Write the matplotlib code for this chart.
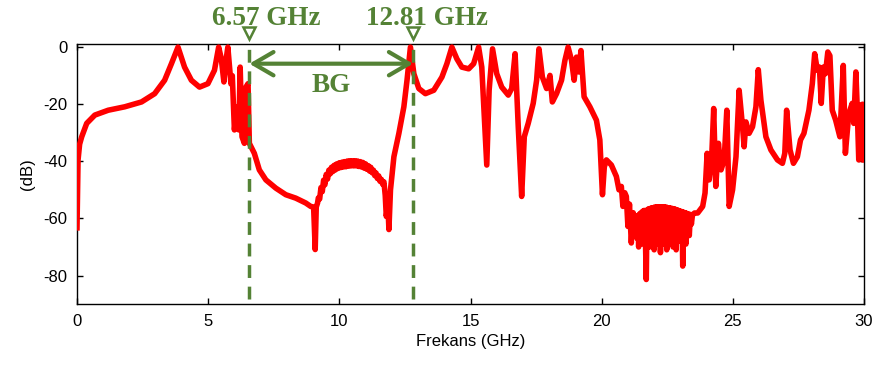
import matplotlib
matplotlib.use('Agg')
import matplotlib.pyplot as plt

plt.rcParams['axes.unicode_minus'] = False

# response, split in pieces (frequency in GHz, level in dB)
f_low = [
    0.00, 0.02, 0.04, 0.10, 0.18, 0.37, 0.68, 1.19, 1.82, 2.46, 2.96, 3.34, 3.60, 3.85,
    4.10, 4.36, 4.67, 4.99, 5.24, 5.40, 5.50, 5.60, 5.66, 5.75, 5.87, 5.92, 6.00, 6.09,
    6.17, 6.22, 6.29, 6.38, 6.44, 6.52, 6.57, 6.76, 6.95, 7.20, 7.58, 7.96, 8.34, 8.72,
    8.91, 9.02, 9.08, 9.12, 9.17,
]
db_low = [
    -63.3, -50.0, -39.5, -34.0, -31.4, -26.7, -23.8, -22.1, -20.9, -19.2, -16.3, -11.6, -5.8, 0.0,
    -7.0, -11.6, -14.0, -12.8, -8.1, 0.0, -4.0, -12.2, -6.0, 0.0, -12.9, -10.0, -29.0, -20.9,
    -29.0, -7.0, -31.4, -33.7, -14.0, -12.8, -33.7, -37.2, -43.0, -46.5, -49.4, -51.7, -52.9, -54.6,
    -55.8, -56.0, -70.9, -56.0, -54.6,
]

# ripple on the dome inside the band gap
f_dome = [
    9.20, 9.25, 9.30, 9.35, 9.40, 9.45, 9.50, 9.55, 9.60, 9.65, 9.70, 9.75, 9.80, 9.85,
    9.90, 9.95, 10.00, 10.05, 10.10, 10.15, 10.20, 10.25, 10.30, 10.35, 10.40, 10.45,
    10.50, 10.55, 10.60, 10.65, 10.70, 10.75, 10.80, 10.85, 10.90, 10.95, 11.00, 11.05,
    11.10, 11.15, 11.20, 11.25, 11.30, 11.35, 11.40, 11.45, 11.50, 11.55, 11.60, 11.65, 11.70,
]
db_dome = [
    -52.8, -53.2, -49.2, -50.6, -46.6, -48.2, -44.6, -46.2, -43.1, -44.4, -42.1, -43.6, -41.4, -43.0,
    -40.9, -42.5, -40.5, -42.2, -40.3, -42.0, -40.1, -41.9, -39.9, -41.7, -39.8, -41.6,
    -39.8, -41.6, -39.8, -41.6, -39.9, -41.8, -40.1, -42.0, -40.4, -42.4, -40.9, -42.8,
    -41.5, -43.4, -42.1, -44.0, -43.1, -45.0, -44.1, -46.0, -45.1, -47.0, -46.3, -48.0, -47.2,
]

f_mid = [
    11.75, 11.79, 11.85, 11.89, 11.95, 12.08, 12.27, 12.46, 12.58, 12.71, 12.84, 13.03,
    13.28, 13.60, 13.91, 14.10, 14.29, 14.48, 14.67, 14.93, 15.12, 15.31, 15.43, 15.62,
    15.71, 15.84, 16.00, 16.19, 16.44, 16.57, 16.70, 16.82, 16.95, 17.05, 17.20, 17.39,
    17.52, 17.61, 17.74, 17.90, 18.03, 18.12, 18.28, 18.47, 18.60, 18.72, 18.85, 18.95,
    19.04, 19.13, 19.21, 19.33, 19.55, 19.80, 19.93, 19.99, 20.03, 20.10, 20.18, 20.37,
    20.56, 20.66, 20.75, 20.81, 20.88, 20.94, 21.00, 21.06, 21.13, 21.20, 21.26,
]
db_mid = [
    -52.0, -59.3, -55.0, -63.9, -50.0, -38.4, -30.2, -20.9, -11.6, 0.0, -9.3, -14.5,
    -16.3, -15.1, -10.5, -5.8, 0.0, -4.1, -7.0, -7.6, -5.8, 0.0, -7.0, -41.3,
    -15.1, -0.6, -9.3, -14.0, -16.8, -14.5, -2.3, -27.9, -52.3, -31.4, -26.7, -19.7,
    -11.6, -0.6, -10.5, -14.5, -9.9, -19.2, -16.3, -11.6, -4.6, 0.0, -4.6, -11.6,
    -3.5, -8.7, -1.2, -17.4, -20.9, -25.6, -32.5, -44.2, -51.7, -42.0, -39.5, -41.3,
    -45.3, -50.0, -48.8, -55.8, -51.0, -52.3, -62.8, -55.0, -68.6, -58.0, -60.4,
]

# dense ripple in the 21-23.5 GHz stop band
f_band = [
    21.29, 21.32, 21.35, 21.38, 21.41, 21.44, 21.47, 21.50, 21.53, 21.56, 21.59, 21.62,
    21.66, 21.70, 21.73, 21.76, 21.79, 21.82, 21.85, 21.88, 21.91, 21.94, 21.97, 22.00,
    22.03, 22.06, 22.09, 22.12, 22.15, 22.18, 22.21, 22.24, 22.27, 22.30, 22.33, 22.36,
    22.39, 22.42, 22.45, 22.48, 22.51, 22.54, 22.57, 22.60, 22.63, 22.66, 22.69, 22.72,
    22.75, 22.78, 22.81, 22.84, 22.87, 22.90, 22.93, 22.96, 22.99, 23.02, 23.06, 23.09,
    23.12, 23.15, 23.18, 23.21, 23.24, 23.27, 23.30, 23.34, 23.38, 23.42, 23.46, 23.54,
]
db_band = [
    -64.0, -59.5, -67.0, -59.0, -70.0, -58.5, -63.0, -58.0, -66.0, -57.5, -69.0, -57.2,
    -64.0, -81.4, -57.0, -66.0, -56.6, -70.0, -56.5, -63.0, -56.3, -67.0, -56.2, -71.0,
    -56.0, -65.0, -56.0, -69.0, -56.0, -63.0, -56.0, -72.0, -56.0, -66.0, -56.0, -69.0,
    -56.0, -64.0, -56.0, -71.0, -56.2, -66.0, -56.3, -69.0, -56.4, -64.0, -56.5, -70.0,
    -56.6, -65.0, -56.8, -71.0, -57.0, -64.0, -57.2, -68.0, -57.4, -65.0, -57.6, -76.7,
    -57.8, -66.0, -58.0, -69.0, -58.2, -63.0, -58.4, -66.0, -58.6, -62.0, -58.8, -58.1,
]

f_high = [
    23.66, 23.85, 23.94, 24.02, 24.10, 24.19, 24.27, 24.35, 24.45, 24.55, 24.67, 24.77,
    24.86, 24.99, 25.12, 25.24, 25.37, 25.43, 25.50, 25.62, 25.75, 25.88, 25.97, 26.07,
    26.26, 26.45, 26.70, 26.89, 26.98, 27.05, 27.18, 27.31, 27.46, 27.58, 27.71, 27.90,
    28.03, 28.12, 28.22, 28.30, 28.37, 28.45, 28.53, 28.62, 28.70, 28.79, 28.92, 29.08,
    29.21, 29.29, 29.42, 29.55, 29.61, 29.69, 29.74, 29.80, 29.86, 29.95, 30.00,
]
db_high = [
    -58.1, -55.8, -51.1, -37.2, -46.5, -39.5, -21.5, -48.8, -33.7, -43.0, -39.5, -22.1,
    -55.8, -50.0, -38.4, -15.1, -27.9, -34.9, -26.2, -30.2, -27.9, -20.9, -7.9, -18.6,
    -31.4, -36.0, -39.5, -40.7, -37.2, -22.1, -36.0, -40.7, -38.4, -32.5, -30.2, -22.1,
    -12.8, -2.3, -8.1, -7.0, -19.7, -7.0, -9.3, -1.7, -3.0, -22.1, -25.6, -31.4,
    -6.4, -37.2, -23.3, -19.7, -26.7, -8.7, -20.9, -39.5, -20.3, -20.0, -39.5,
]

# band gap edges (GHz)
bg_lo = 6.57
bg_hi = 12.81
bg_labels = ['6.57 GHz', '12.81 GHz']

green = '#548235'

freq = f_low + f_dome + f_mid + f_band + f_high
db = db_low + db_dome + db_mid + db_band + db_high

fig = plt.figure(figsize=(8.82, 3.69), dpi=100)
ax = fig.add_axes([0.0873, 0.176, 0.8923, 0.704])

ax.plot(freq, db, color='red', lw=4, solid_joinstyle='round', zorder=3)

ax.set_xlim(0, 30)
ax.set_ylim(-90, 1)
ax.set_xticks([0, 5, 10, 15, 20, 25, 30])
ax.set_yticks([-80, -60, -40, -20, 0])
ax.tick_params(direction='in', top=True, right=True, length=4, width=1,
               labelsize=12, pad=7)
for lab in ax.get_xticklabels() + ax.get_yticklabels():
    lab.set_family('Liberation Sans')
for s in ax.spines.values():
    s.set_linewidth(1.0)

ax.set_xlabel('Frekans (GHz)', fontsize=12, family='Liberation Sans', labelpad=4)
ax.set_ylabel('(dB)', fontsize=12, family='Liberation Sans', labelpad=6)

# band gap markers
trans = ax.get_xaxis_transform()
for f, lab, dx in zip([bg_lo, bg_hi], bg_labels, [12, 10]):
    ax.plot([f, f], [0.02, 1.01], transform=trans, color=green, lw=2.5,
            dashes=(3.7, 2.5), clip_on=False, zorder=4)
    ax.plot([f], [1.044], transform=trans, marker='v', ms=9, mfc='white',
            mec=green, mew=1.8, clip_on=False, zorder=5)
    ax.annotate(lab, xy=(f, 1.0), xycoords=trans, xytext=(dx, 14),
                textcoords='offset points', ha='center', va='baseline',
                fontsize=19.5, fontweight='bold', family='Liberation Serif',
                color=green, annotation_clip=False)

ax.annotate('', xy=(bg_hi, -5.8), xytext=(bg_lo, -5.8),
            arrowprops=dict(arrowstyle='<->,head_length=0.72,head_width=0.42',
                            color=green, lw=3, shrinkA=0, shrinkB=0,
                            mutation_scale=20), zorder=5)
ax.text((bg_lo + bg_hi) / 2, -13.4, 'BG', ha='center', va='center',
        fontsize=19.5, fontweight='bold', family='Liberation Serif', color=green)

fig.savefig('out.png', dpi=100)
